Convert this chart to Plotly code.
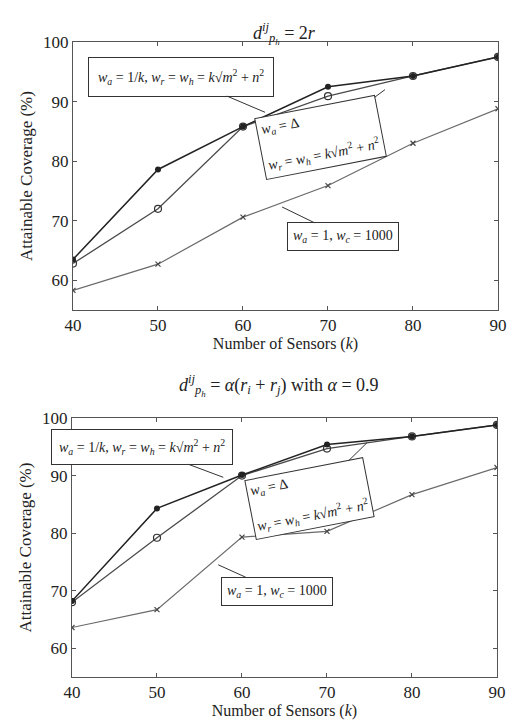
import plotly.graph_objects as go

sensors = [40, 50, 60, 70, 80, 90]

# top panel: d = 2r
top_inv_k = [63.5, 78.6, 85.8, 92.5, 94.3, 97.5]
top_delta = [62.8, 72.0, 85.8, 90.9, 94.3, 97.5]
top_w1000 = [58.3, 62.7, 70.6, 75.9, 83.0, 88.8]

# bottom panel: d = alpha (ri + rj)
bot_inv_k = [68.2, 84.3, 90.1, 95.4, 96.8, 98.8]
bot_delta = [68.0, 79.2, 90.0, 94.7, 96.8, 98.8]
bot_w1000 = [63.6, 66.7, 79.3, 80.3, 86.7, 91.4]

x_ticks = [40, 50, 60, 70, 80, 90]
y_ticks = [60, 70, 80, 90, 100]

SERIF = "Liberation Serif, Times New Roman, serif"

fig = go.Figure()

def add_panel(xa, ya, a, b, c):
    fig.add_trace(go.Scatter(x=sensors, y=c, mode="lines+markers", xaxis=xa, yaxis=ya,
                             line=dict(color="#6a6a6a", width=1.2),
                             marker=dict(symbol="x-thin", size=5, color="#444",
                                         line=dict(color="#444", width=1.2)),
                             showlegend=False))
    fig.add_trace(go.Scatter(x=sensors, y=b, mode="lines+markers", xaxis=xa, yaxis=ya,
                             line=dict(color="#4a4a4a", width=1.3),
                             marker=dict(symbol="circle-open", size=7, color="#333",
                                         line=dict(color="#333", width=1.2)),
                             showlegend=False))
    fig.add_trace(go.Scatter(x=sensors, y=a, mode="lines+markers", xaxis=xa, yaxis=ya,
                             line=dict(color="#222", width=1.5),
                             marker=dict(symbol="circle", size=6, color="#222"),
                             showlegend=False))

add_panel("x", "y", top_inv_k, top_delta, top_w1000)
add_panel("x2", "y2", bot_inv_k, bot_delta, bot_w1000)

xax = dict(range=[40, 90], tickvals=x_ticks, ticks="inside", ticklen=4, tickcolor="#555",
           showline=True, linecolor="#555", linewidth=1, mirror="allticks", showgrid=False,
           zeroline=False, automargin=False, tickfont=dict(family=SERIF, size=17, color="#222"),
           title=dict(text="Number of Sensors (<i>k</i>)", font=dict(family=SERIF, size=16, color="#222"),
                      standoff=0))
yax = dict(range=[55, 100], tickvals=y_ticks, ticks="inside", ticklen=4, tickcolor="#555",
           showline=True, linecolor="#555", linewidth=1, mirror="allticks", showgrid=False,
           zeroline=False, automargin=False, tickfont=dict(family=SERIF, size=17, color="#222"),
           title=dict(text="Attainable Coverage (%)", font=dict(family=SERIF, size=17, color="#222"),
                      standoff=6))

fig.update_layout(
    width=508, height=721,
    margin=dict(l=0, r=0, t=0, b=0, autoexpand=False),
    paper_bgcolor="white", plot_bgcolor="white",
    xaxis=dict(xax, domain=[0.1437, 0.9803], anchor="y"),
    yaxis=dict(yax, domain=[0.570, 0.9417], anchor="x"),
    xaxis2=dict(xax, domain=[0.1417, 0.9783], anchor="y2"),
    yaxis2=dict(yax, domain=[0.061, 0.4202], anchor="x2"),
)

ann_font = dict(family=SERIF, size=14, color="#222")

def callout(xref, yref, text, tx, ty, cx, cy, angle=0, pad=5):
    fig.add_annotation(xref=xref, yref=yref, x=tx, y=ty, ax=cx, ay=cy,
                       axref=xref, ayref=yref, text=text, showarrow=True,
                       arrowhead=0, arrowwidth=1, arrowcolor="#333",
                       bordercolor="#333", borderwidth=1, borderpad=pad,
                       bgcolor="white", font=ann_font, textangle=angle, align="left")

t1 = "<i>w<sub>a</sub></i> = 1/<i>k</i>, <i>w<sub>r</sub></i> = <i>w<sub>h</sub></i> = <i>k</i>√<i>m</i><sup>2</sup> + <i>n</i><sup>2</sup>"
t2 = "<i>w<sub>a</sub></i> = Δ<br><br><i>w<sub>r</sub></i> = <i>w<sub>h</sub></i> = <i>k</i>√<i>m</i><sup>2</sup> + <i>n</i><sup>2</sup>"
t3 = "<i>w<sub>a</sub></i> = 1, <i>w<sub>c</sub></i> = 1000"

callout("x", "y", t1, 62.6, 88.2, 52.7, 94.2, pad=9)
callout("x", "y", t2, 76.7, 92.0, 69.1, 84.0, angle=-11, pad=4)
callout("x", "y", t3, 64.6, 72.3, 71.8, 67.3, pad=5)

callout("x2", "y2", t1, 57.8, 89.7, 48.2, 95.0, pad=7)
callout("x2", "y2", t2, 74.7, 95.7, 68.0, 86.0, angle=-11, pad=3)
callout("x2", "y2", t3, 57.2, 74.5, 64.1, 69.9, pad=5)

fig.add_annotation(xref="paper", yref="paper", x=0.561, y=0.975, showarrow=False,
                   text="<i>d</i><sup><i>ij</i></sup><sub><i>p<sub>h</sub></i></sub> = 2<i>r</i>",
                   font=dict(family=SERIF, size=18, color="#222"))
fig.add_annotation(xref="paper", yref="paper", x=0.55, y=0.466, showarrow=False,
                   text="<i>d</i><sup><i>ij</i></sup><sub><i>p<sub>h</sub></i></sub> = <i>α</i>(<i>r<sub>i</sub></i> + <i>r<sub>j</sub></i>) with <i>α</i> = 0.9",
                   font=dict(family=SERIF, size=18, color="#222"))

fig.write_html("out.html", config={"displayModeBar": False},
               post_script="document.body.style.margin='0';")
